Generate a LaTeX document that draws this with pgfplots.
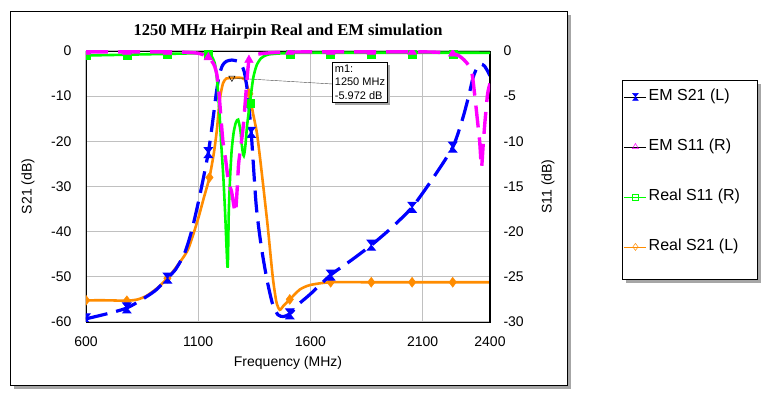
\documentclass[border=0pt]{standalone}
\usepackage{pgfplots}
\usepackage{pgfplotstable}
\pgfplotsset{compat=1.18}
\usetikzlibrary{shadows}
\usepackage{fontspec}
\setmainfont{Liberation Sans}
\newfontfamily\titlefont{Liberation Serif}
\definecolor{cblue}{RGB}{0,0,255}
\definecolor{cmag}{RGB}{255,0,255}
\definecolor{cgreen}{RGB}{0,255,0}
\definecolor{corange}{RGB}{255,140,0}
\definecolor{cgrid}{RGB}{192,192,192}

\pgfdeclareplotmark{hourglass}{%
 \pgfpathmoveto{\pgfqpoint{-0.8\pgfplotmarksize}{\pgfplotmarksize}}%
 \pgfpathlineto{\pgfqpoint{0.8\pgfplotmarksize}{\pgfplotmarksize}}%
 \pgfpathlineto{\pgfqpoint{-0.8\pgfplotmarksize}{-\pgfplotmarksize}}%
 \pgfpathlineto{\pgfqpoint{0.8\pgfplotmarksize}{-\pgfplotmarksize}}%
 \pgfpathclose
 \pgfusepathqfillstroke}

% EM S21 (left axis)
\pgfplotstableread{
x y
600 -59.3
700 -58.1
782 -56.9
850 -55.0
910 -53.0
963 -50.3
1000 -48.3
1040 -44.7
1072 -39.6
1107 -32.0
1145 -22.5
1166 -15.0
1180 -9.5
1193 -5.5
1208 -3.2
1225 -2.3
1250 -2.0
1278 -2.3
1292 -3.0
1305 -4.6
1318 -8.5
1336 -18.0
1358 -34.0
1380 -43.0
1405 -50.3
1430 -55.8
1455 -58.4
1480 -58.8
1508 -58.2
1530 -57.1
1553 -55.8
1600 -53.8
1690 -49.6
1780 -46.4
1871 -43.0
1960 -39.2
2053 -34.6
2140 -28.6
2234 -21.3
2278 -15.0
2305 -10.0
2325 -5.8
2345 -3.4
2360 -2.9
2375 -3.3
2390 -4.5
2400 -5.5
}\emstwoone

% Real S21 (left axis)
\pgfplotstableread{
x y
600 -55.2
700 -55.2
782 -55.3
830 -55.0
870 -54.2
920 -52.4
963 -50.3
1000 -48.0
1054 -44.0
1098 -37.4
1125 -32.5
1150 -28.0
1170 -22.5
1183 -17.5
1196 -10.8
1210 -7.2
1225 -6.1
1250 -5.972
1280 -5.9
1308 -6.3
1328 -9.5
1345 -14.0
1361 -18.0
1375 -23.5
1390 -30.0
1410 -39.0
1432 -50.0
1448 -55.5
1463 -57.3
1480 -56.4
1508 -55.0
1553 -52.8
1600 -51.8
1690 -51.2
1871 -51.2
2053 -51.2
2234 -51.2
2400 -51.2
}\realstwoone

% Real S11 (right axis)
\pgfplotstableread{
x y
600 -0.5
800 -0.4
1000 -0.3
1100 -0.25
1140 -0.35
1160 -0.6
1175 -1.5
1185 -3.5
1195 -7.0
1203 -10.5
1212 -14.0
1220 -18.0
1231 -24.0
1236 -18.0
1242 -14.0
1249 -11.0
1258 -9.0
1268 -7.9
1278 -7.6
1288 -8.8
1296 -10.8
1303 -11.6
1310 -10.5
1318 -8.2
1330 -5.8
1345 -3.0
1360 -1.6
1380 -0.8
1410 -0.4
1480 -0.25
1600 -0.2
2400 -0.2
}\realsoneone

% EM S11 (right axis)
\pgfplotstableread{
x y
600 -0.1
800 -0.1
1000 -0.1
1100 -0.25
1145 -0.7
1170 -1.5
1183 -2.6
1192 -4.5
1200 -7.0
1210 -10.0
1222 -12.0
1235 -14.5
1248 -15.5
1258 -17.0
1266 -17.9
1273 -15.5
1280 -12.5
1290 -10.5
1300 -8.5
1310 -5.5
1318 -3.0
1326 -1.0
1340 -0.5
1380 -0.3
1450 -0.15
1600 -0.1
2100 -0.1
2200 -0.2
2234 -0.3
2260 -0.5
2285 -1.0
2305 -1.6
2320 -2.5
2332 -4.9
2345 -7.9
2354 -10.0
2362 -12.9
2369 -10.6
2377 -8.0
2389 -4.8
2400 -3.6
}\emsoneone

\pgfplotsset{
  common/.style={
    scale only axis, width=404pt, height=271pt,
    xmin=600, xmax=2400,
    clip marker paths=true,
    major tick length=0pt,
    ticklabel style={font=\fontsize{14}{16}\selectfont},
    label style={font=\fontsize{14}{16}\selectfont},
    /pgf/number format/assume math mode=true,
    /pgf/number format/1000 sep={},
    legend image code/.code={\draw[mark repeat=2,mark phase=2,##1] plot coordinates {(0pt,0pt) (11pt,0pt) (22pt,0pt)};},
  },
}

\begin{document}
\begin{tikzpicture}
\useasboundingbox (-86pt,-73pt) rectangle (679pt,322pt);
% chart frame with shadow
\fill[gray!70] (-72pt,-67pt) rectangle (485pt,307pt);
\filldraw[fill=white, draw=black, line width=0.8pt] (-76pt,-63pt) rectangle (481pt,311pt);
% legend frame with shadow
\fill[gray!70] (540pt,39pt) rectangle (675pt,238pt);
\filldraw[fill=white, draw=black, line width=0.8pt] (536pt,43pt) rectangle (671pt,242pt);

\begin{axis}[common,
  ymin=-60, ymax=0,
  ytick={-60,-50,...,0},
  xtick={600,1100,1600,2100,2400},
  xmajorgrids, ymajorgrids,
  grid style={cgrid, line width=1.1pt},
  axis line style={line width=0.8pt},
  yticklabel style={xshift=-11pt},
  xticklabel style={yshift=-11pt},
  xlabel={Frequency (MHz)},
  ylabel={S21 (dB)},
  xlabel style={at={(axis description cs:0.5,-0.151)}, anchor=center},
  ylabel style={at={(axis description cs:-0.1435,0.5)}, anchor=center, rotate=0},
  title={1250 MHz Hairpin Real and EM simulation},
  title style={font=\titlefont\bfseries\fontsize{16.5}{18}\selectfont, at={(axis description cs:0.5,1.034)}, anchor=base},
]
\addplot[corange, line width=2.6pt, smooth, tension=0.4, forget plot] table[x=x,y=y] {\realstwoone};
\addplot[cblue, line width=3.2pt, smooth, tension=0.4, dash pattern=on 22pt off 9pt, forget plot] table[x=x,y=y] {\emstwoone};
\addplot[only marks, mark=diamond*, mark size=5pt, corange, forget plot] coordinates {
(600,-55.2) (782,-55.3) (963,-50.3) (1150,-28.0) (1328,-9.5) (1508,-55.0) (1690,-51.2) (1871,-51.2) (2053,-51.2) (2234,-51.2)};
\addplot[only marks, mark=hourglass, mark size=5pt, cblue, line width=1pt, forget plot] coordinates {
(600,-59.3) (782,-56.9) (963,-50.3) (1145,-22.5) (1336,-18.0) (1508,-58.2) (1690,-49.6) (1871,-43.0) (2053,-34.6) (2234,-21.3)};
\addplot[only marks, mark=triangle, mark options={rotate=180, black, fill=none, line width=0.5pt}, mark size=3.5pt, forget plot] coordinates {(1250,-5.972)};
\draw[black!70, line width=0.4pt] (axis cs:1250,-5.972) -- (axis cs:1696,-7.3);
\node[draw=black, fill=white, line width=0.8pt, anchor=north west, align=left, inner sep=2.5pt,
  font=\fontsize{11}{13.5}\selectfont, drop shadow={shadow xshift=2.5pt, shadow yshift=-2.5pt, fill=gray!70, opacity=1}]
  at (axis cs:1696,-2.44) {m1:\\1250 MHz\\-5.972 dB};
\end{axis}

\begin{axis}[common,
  ymin=-30, ymax=0,
  ytick={-30,-25,...,0},
  axis x line=none,
  axis y line=right,
  y axis line style={line width=1.6pt, -},
  yticklabel style={xshift=10pt},
  ylabel={S11 (dB)},
  ylabel style={at={(axis description cs:1.1436,0.5)}, anchor=center, rotate=0, font=\fontsize{14}{16}\selectfont},
  legend style={at={(axis description cs:1.3317,0.8683)}, anchor=north west, draw=none, fill=none,
    inner sep=0pt, row sep=30pt, font=\fontsize{16}{18}\selectfont,
    nodes={inner sep=2pt, text height=12pt, text depth=4pt}},
  legend cell align=left,
]
\addplot[cgreen, line width=2.6pt, smooth, tension=0.4, forget plot] table[x=x,y=y] {\realsoneone};
\addplot[only marks, mark=square*, mark size=4pt, cgreen, forget plot] coordinates {
(600,-0.45) (782,-0.45) (963,-0.4) (1145,-0.4) (1330,-5.8) (1508,-0.3) (1690,-0.3) (1871,-0.3) (2053,-0.3) (2234,-0.3)};
\addplot[cmag, line width=3.4pt, smooth, tension=0.4, dash pattern=on 22pt off 10pt, forget plot] table[x=x,y=y] {\emsoneone};
\addplot[only marks, mark=triangle*, mark size=5pt, cmag, forget plot] coordinates {
(600,-0.1) (782,-0.1) (963,-0.1) (1145,-0.7) (1326,-1.0) (1508,-0.1) (1690,-0.1) (1871,-0.1) (2053,-0.1) (2234,-0.3)};
\addlegendimage{black, line width=0.5pt, mark=hourglass, mark size=3.5pt, mark options={cblue, fill=none, line width=0.5pt}}
\addlegendentry{EM S21 (L)}
\addlegendimage{black, line width=0.5pt, mark=triangle, mark size=3.5pt, mark options={cmag, fill=none, line width=0.5pt}}
\addlegendentry{EM S11 (R)}
\addlegendimage{cgreen, line width=0.5pt, mark=square, mark size=3pt, mark options={cgreen, fill=none, line width=0.5pt}}
\addlegendentry{Real S11 (R)}
\addlegendimage{corange, line width=0.5pt, mark=diamond, mark size=3.5pt, mark options={corange, fill=none, line width=0.5pt}}
\addlegendentry{Real S21 (L)}
\end{axis}
\end{tikzpicture}
\end{document}
